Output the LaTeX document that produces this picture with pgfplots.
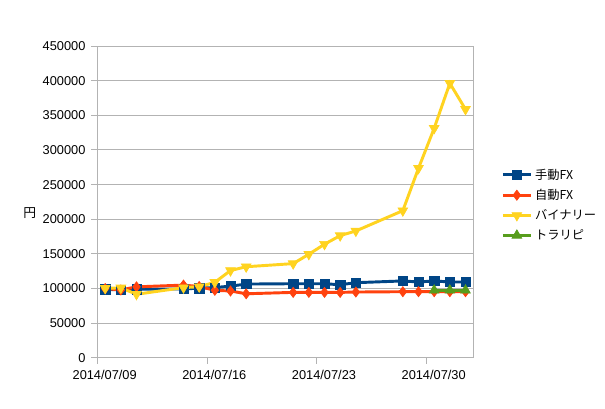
\documentclass[border=0pt]{standalone}
\usepackage{fontspec}
\setmainfont{Liberation Sans}
\newfontfamily\cjk{Noto Sans CJK JP}
\usepackage{pgfplots}
\pgfplotsset{compat=1.18}
\definecolor{cblue}{HTML}{004586}
\definecolor{corange}{HTML}{FF420E}
\definecolor{cyellow}{HTML}{FFD320}
\definecolor{cgreen}{HTML}{579D1C}
\definecolor{cgrid}{HTML}{B3B3B3}
\begin{document}
\begin{tikzpicture}
\path[use as bounding box] (0,0) rectangle (453.75pt,306pt);
\begin{axis}[
  at={(73pt,37.6pt)}, anchor=south west,
  scale only axis, width=282pt, height=233.9pt,
  xmin=0, xmax=24, ymin=0, ymax=450000,
  xtick={0,7,14,21},
  xticklabels={2014/07/09,2014/07/16,2014/07/23,2014/07/30},
  ytick={0,50000,100000,150000,200000,250000,300000,350000,400000,450000},
  scaled y ticks=false,
  /pgf/number format/fixed,
  /pgf/number format/precision=0,
  /pgf/number format/1000 sep={},
  /pgf/number format/assume math mode=true,
  tick label style={font=\fontsize{9.6}{11}\selectfont, text=black},
  xticklabel style={xshift=5.5pt},
  axis line style={cgrid, line width=0.75pt},
  major tick style={cgrid, line width=0.75pt},
  tick align=outside, major tick length=4.5pt, tick pos=left,
  ymajorgrids, grid style={cgrid, line width=0.75pt},
  ylabel={\cjk 円},
  ylabel style={rotate=-90, at={(axis description cs:-0.18,0.465)}, anchor=center, font=\fontsize{9.6}{11}\selectfont},
  legend style={draw=none, fill=none, at={(1.06,0.49)}, anchor=west,
    font=\cjk\fontsize{9.2}{11}\selectfont, row sep=2pt},
  legend cell align=left,
  legend image code/.code={\draw[mark repeat=2,mark phase=2] plot coordinates {(0cm,0cm) (0.37cm,0cm) (0.74cm,0cm)};},
  line width=2.2pt,
]
\addplot[cblue, mark=square*, mark size=3.5pt, mark options={solid, fill=cblue, line width=0.5pt}] coordinates {
(0.5,99000) (1.5,98000) (2.5,99000) (5.5,99500) (6.5,100500) (7.5,101500) (8.5,103500) (9.5,106500)
(12.5,107000) (13.5,107000) (14.5,107000) (15.5,105500) (16.5,108500)
(19.5,111000) (20.5,109500) (21.5,111000) (22.5,109500) (23.5,109500)};
\addlegendentry{手動FX}
\addplot[corange, mark=diamond*, mark size=3.8pt, mark options={solid, fill=corange, line width=0.5pt}] coordinates {
(0.5,100000) (1.5,98000) (2.5,102500) (5.5,105000) (6.5,103000) (7.5,97500) (8.5,96500) (9.5,92500)
(12.5,94500) (13.5,94500) (14.5,94500) (15.5,94500) (16.5,95000)
(19.5,95500) (20.5,95500) (21.5,95500) (22.5,95500) (23.5,95500)};
\addlegendentry{自動FX}
\addplot[cyellow, mark=triangle*, mark size=4.2pt, mark options={solid, fill=cyellow, rotate=180, line width=0.5pt}] coordinates {
(0.5,100400) (1.5,101000) (2.5,91800) (5.5,101300) (6.5,102700) (7.5,109000) (8.5,126000) (9.5,131500)
(12.5,136000) (13.5,149500) (14.5,164000) (15.5,176400) (16.5,183100)
(19.5,212400) (20.5,273600) (21.5,331300) (22.5,396200) (23.5,358700)};
\addlegendentry{バイナリー}
\addplot[cgreen, mark=triangle*, mark size=4.2pt, mark options={solid, fill=cgreen, line width=0.5pt}] coordinates {
(21.5,97500) (22.5,97500) (23.5,97500)};
\addlegendentry{トラリピ}
\end{axis}
\end{tikzpicture}
\end{document}
